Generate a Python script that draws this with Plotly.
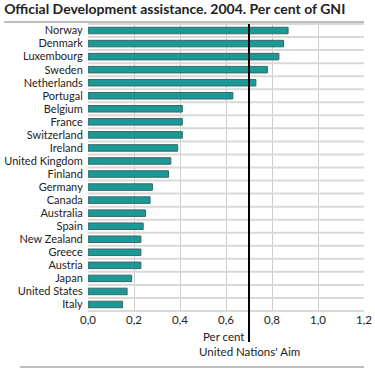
import plotly.graph_objects as go

countries = ["Norway", "Denmark", "Luxembourg", "Sweden", "Netherlands", "Portugal",
             "Belgium", "France", "Switzerland", "Ireland", "United Kingdom", "Finland",
             "Germany", "Canada", "Australia", "Spain", "New Zealand", "Greece",
             "Austria", "Japan", "United States", "Italy"]
values = [0.87, 0.85, 0.83, 0.78, 0.73, 0.63, 0.41, 0.41, 0.41, 0.39, 0.36, 0.35,
          0.28, 0.27, 0.25, 0.24, 0.23, 0.23, 0.23, 0.19, 0.17, 0.15]
x_ticks = [0.0, 0.2, 0.4, 0.6, 0.8, 1.0, 1.2]
x_tick_labels = ["0,0", "0,2", "0,4", "0,6", "0,8", "1,0", "1,2"]
UN_AIM = 0.7

FONT = "Lato, Noto Sans, sans-serif"

fig = go.Figure(go.Bar(
    x=values, y=countries, orientation="h", width=0.5,
    marker=dict(color="#1a9996", line=dict(color="#3d6665", width=1)),
))

# horizontal grid lines at category boundaries (fractions of the plot height)
n_rows = len(countries)
for i in range(n_rows + 1):
    fig.add_shape(type="line", xref="paper", yref="paper", x0=0, x1=1,
                  y0=i / n_rows, y1=i / n_rows,
                  line=dict(color="#d9d9d9", width=2), layer="above")

fig.add_shape(type="line", xref="x", yref="paper", x0=UN_AIM, x1=UN_AIM, y0=-0.108, y1=1,
              line=dict(color="black", width=2), layer="above")
fig.add_annotation(xref="x", yref="paper", x=UN_AIM, y=-0.058, text="Per cent",
                   showarrow=False, xanchor="right", yanchor="top", xshift=-3,
                   font=dict(size=11.5, color="#222", family=FONT))
fig.add_annotation(xref="x", yref="paper", x=UN_AIM, y=-0.113, text="United Nations' Aim",
                   showarrow=False, xanchor="center", yanchor="top",
                   font=dict(size=11.5, color="#222", family=FONT))

fig.add_shape(type="line", xref="paper", yref="paper", x0=-0.304, x1=1, y0=1.007, y1=1.007,
              line=dict(color="#bdbdbd", width=2))
fig.add_shape(type="line", xref="paper", yref="paper", x0=-0.246, x1=1, y0=-0.195, y1=-0.195,
              line=dict(color="#bdbdbd", width=2))

fig.update_layout(
    width=375, height=373,
    margin=dict(l=88, r=11, t=24, b=62, autoexpand=False),
    paper_bgcolor="white", plot_bgcolor="rgba(0,0,0,0)",
    showlegend=False,
    title=dict(text="<b>Official Development assistance. 2004. Per cent of GNI</b>",
               x=0.011, xanchor="left", y=0.99, yanchor="top",
               font=dict(size=14, color="#222", family=FONT)),
    xaxis=dict(range=[0, 1.2], tickvals=x_ticks, ticktext=x_tick_labels, automargin=False,
               showgrid=True, gridcolor="#cccccc", gridwidth=1, zeroline=False,
               tickfont=dict(size=11.5, color="#222", family=FONT),
               showline=False, ticks=""),
    yaxis=dict(autorange="reversed", type="category", automargin=False,
               tickmode="array", tickvals=countries, ticktext=countries,
               showgrid=False,
               tickfont=dict(size=11, color="#222", family=FONT),
               showline=False, ticks="outside", ticklen=2, tickcolor="rgba(0,0,0,0)"),
    bargap=0.5,
)

fig.write_html("out.html", config={"displayModeBar": False},
               post_script="document.body.style.margin='0';document.body.style.overflow='hidden';")
